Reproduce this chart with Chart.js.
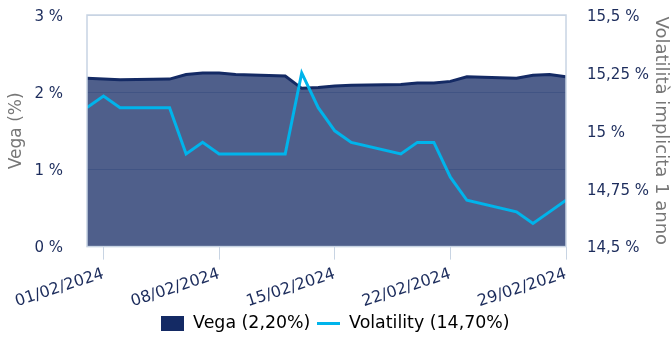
<!DOCTYPE html>
<html>
<head>
<meta charset="utf-8">
<script src="https://cdn.jsdelivr.net/npm/chart.js@4"></script>
<style>
  html, body { margin: 0; padding: 0; background: #fff; }
  #wrap { width: 671px; height: 342px; }
</style>
</head>
<body>
<div id="wrap"><canvas id="chart"></canvas></div>
<script>
// trading days, Feb 2024
const dates = ['31/01/2024', '01/02/2024', '02/02/2024', '05/02/2024', '06/02/2024', '07/02/2024',
  '08/02/2024', '09/02/2024', '12/02/2024', '13/02/2024', '14/02/2024', '15/02/2024', '16/02/2024',
  '19/02/2024', '20/02/2024', '21/02/2024', '22/02/2024', '23/02/2024', '26/02/2024', '27/02/2024',
  '28/02/2024', '29/02/2024'];
const vega = [2.18, 2.17, 2.16, 2.17, 2.23, 2.25, 2.25, 2.23, 2.21, 2.05, 2.06, 2.08, 2.09,
  2.10, 2.12, 2.12, 2.14, 2.20, 2.18, 2.22, 2.23, 2.20];
const volatility = [15.10, 15.15, 15.10, 15.10, 14.90, 14.95, 14.90, 14.90, 14.90, 15.25, 15.10, 15.00, 14.95,
  14.90, 14.95, 14.95, 14.80, 14.70, 14.65, 14.60, 14.65, 14.70];
const tickDates = ['01/02/2024', '08/02/2024', '15/02/2024', '22/02/2024', '29/02/2024'];

const NAVY = '#142a64';
const CYAN = '#00b4eb';
const FRAME = '#c8d4e3';
const TEXT = '#1c2c5c';

// day number with 31/01 = 0, 01/02 = 1 ...
function dayNum(s) {
  const [d, m] = s.split('/').map(Number);
  return m === 1 ? d - 31 : d;
}
const fmt = (v) => String(+v.toFixed(2)).replace('.', ',');
const pct2 = (v) => v.toFixed(2).replace('.', ',') + '%';

function marker(w, h, color) {
  const c = document.createElement('canvas');
  c.width = w; c.height = h;
  const g = c.getContext('2d');
  g.fillStyle = color;
  g.fillRect(0, 0, w, h);
  return c;
}

// fixed box for the y axes; tick padding would otherwise push the plot down
function fixY(width) {
  return (s) => {
    s.width = width;
    s.paddingTop = 15;
    s.paddingBottom = 0;
  };
}

const frame = {
  id: 'frame',
  afterDatasetsDraw(chart) {
    const { ctx, chartArea: a } = chart;
    ctx.save();
    ctx.strokeStyle = FRAME;
    ctx.lineWidth = 1.5;
    ctx.strokeRect(a.left, a.top, a.right - a.left, a.bottom - a.top);
    ctx.restore();
  }
};

const markers = [marker(23, 15, NAVY), marker(23, 3, CYAN)];

new Chart('chart', {
  type: 'line',
  data: {
    datasets: [{
      label: 'Vega (' + pct2(vega[vega.length - 1]) + ')',
      data: dates.map((d, i) => ({ x: dayNum(d), y: vega[i] })),
      yAxisID: 'y',
      borderColor: NAVY,
      backgroundColor: 'rgba(20,42,100,0.75)',
      borderWidth: 3,
      fill: 'origin',
      pointRadius: 0,
      order: 1
    }, {
      label: 'Volatility (' + pct2(volatility[volatility.length - 1]) + ')',
      data: dates.map((d, i) => ({ x: dayNum(d), y: volatility[i] })),
      yAxisID: 'y1',
      borderColor: CYAN,
      borderWidth: 3,
      fill: false,
      pointRadius: 0,
      order: 0
    }]
  },
  options: {
    responsive: true,
    maintainAspectRatio: false,
    animation: false,
    layout: { padding: 0 },
    plugins: {
      tooltip: { enabled: false },
      legend: {
        position: 'bottom',
        labels: {
          usePointStyle: true,
          pointStyleWidth: 23,
          padding: 7,
          color: '#4a4a4a',
          font: { family: 'DejaVu Sans', size: 17.4, lineHeight: 1.15 },
          generateLabels: (chart) => chart.data.datasets.map((ds, i) => ({
            text: ds.label,
            pointStyle: markers[i],
            fillStyle: ds.borderColor,
            strokeStyle: ds.borderColor,
            lineWidth: 0,
            datasetIndex: i
          }))
        }
      }
    },
    scales: {
      x: {
        type: 'linear',
        min: dayNum(dates[0]),
        max: dayNum(dates[dates.length - 1]),
        afterBuildTicks: (s) => { s.ticks = tickDates.map(d => ({ value: dayNum(d) })); },
        afterFit: (s) => { s.height = 61; },
        grid: { drawOnChartArea: false, drawTicks: true, tickLength: 13, color: FRAME },
        border: { display: false },
        ticks: {
          autoSkip: false,
          minRotation: 18,
          maxRotation: 18,
          padding: 5,
          color: TEXT,
          font: { family: 'DejaVu Sans', size: 16 },
          callback: (v) => tickDates.find(d => dayNum(d) === v) || ''
        }
      },
      y: {
        position: 'left',
        min: 0,
        max: 3,
        afterFit: fixY(87),
        grid: { drawTicks: false, color: FRAME },
        border: { display: false },
        ticks: {
          stepSize: 1,
          padding: 24,
          labelOffset: 2,
          color: TEXT,
          font: { family: 'DejaVu Sans', size: 15 },
          callback: (v) => fmt(v) + ' %'
        },
        title: {
          display: true,
          text: 'Vega (%)',
          color: '#777',
          padding: { top: 6, bottom: 0 },
          font: { family: 'DejaVu Sans', size: 17 }
        }
      },
      y1: {
        position: 'right',
        min: 14.5,
        max: 15.5,
        afterFit: fixY(105),
        grid: { drawOnChartArea: false, drawTicks: false },
        border: { display: false },
        ticks: {
          stepSize: 0.25,
          padding: 21,
          labelOffset: 2,
          color: TEXT,
          font: { family: 'DejaVu Sans', size: 15 },
          callback: (v) => fmt(v) + ' %'
        },
        title: {
          display: true,
          text: 'Volatilità implicita 1 anno',
          color: '#777',
          padding: { top: 0, bottom: 0 },
          font: { family: 'DejaVu Sans', size: 18 }
        }
      }
    }
  },
  plugins: [frame]
});
</script>
</body>
</html>
